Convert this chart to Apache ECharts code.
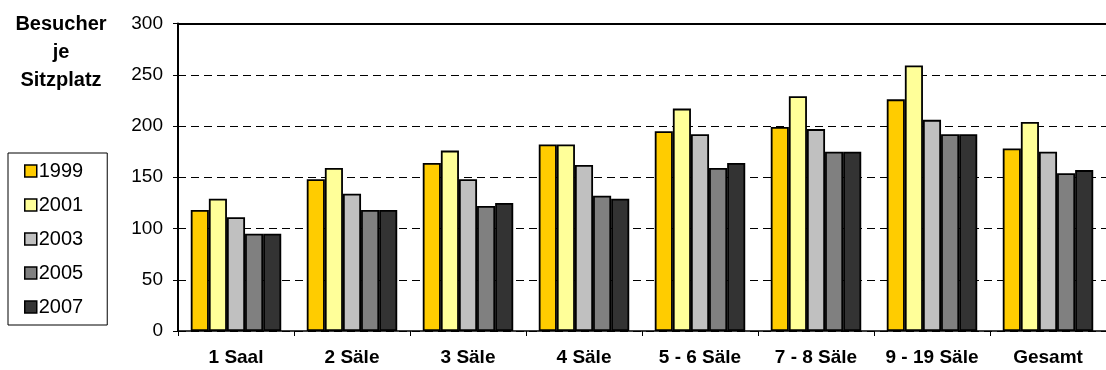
<!DOCTYPE html>
<html>
<head>
<meta charset="utf-8">
<script src="https://cdn.jsdelivr.net/npm/echarts@6/dist/echarts.min.js"></script>
<style>
  html, body { margin: 0; padding: 0; background: #fff; }
  #chart { width: 1106px; height: 370px; }
</style>
</head>
<body>
<div id="chart"></div>
<script>
// Visitors per seat, by cinema size class
const categories = ['1 Saal', '2 Säle', '3 Säle', '4 Säle', '5 - 6 Säle', '7 - 8 Säle', '9 - 19 Säle', 'Gesamt'];
const years = ['1999', '2001', '2003', '2005', '2007'];
const values1999 = [118, 148, 164, 182, 195, 199, 226, 178];
const values2001 = [129, 159, 176, 182, 217, 229, 259, 204];
const values2003 = [111, 134, 148, 162, 192, 197, 206, 175];
const values2005 = [95, 118, 122, 132, 159, 175, 192, 154];
const values2007 = [95, 118, 125, 129, 164, 175, 192, 157];
const yTicks = [0, 50, 100, 150, 200, 250, 300];

const seriesValues = [values1999, values2001, values2003, values2005, values2007];
const colors = ['#FFCC00', '#FFFF99', '#C0C0C0', '#808080', '#333333'];
const FONT = '"Liberation Sans", Arial, sans-serif';

const chart = echarts.init(document.getElementById('chart'), null, { renderer: 'canvas' });

chart.setOption({
  animation: false,
  backgroundColor: '#ffffff',
  textStyle: { fontFamily: FONT, color: '#000' },
  title: {
    text: 'Besucher\nje\nSitzplatz',
    left: 61,
    top: 10,
    padding: 0,
    textAlign: 'center',
    textStyle: {
      fontFamily: FONT,
      fontSize: 20,
      fontWeight: 'bold',
      lineHeight: 28,
      color: '#000'
    }
  },
  legend: {
    orient: 'vertical',
    left: 8,
    top: 153,
    data: years,
    padding: [8, 24, 8, 16],
    itemGap: 14,
    itemWidth: 12,
    itemHeight: 12,
    borderColor: '#000',
    borderWidth: 1,
    icon: 'rect',
    itemStyle: { borderColor: '#000', borderWidth: 1.5 },
    textStyle: { fontFamily: FONT, fontSize: 20, color: '#000', lineHeight: 20, padding: [0, 0, 0, -3] }
  },
  grid: {
    left: 178,
    top: 23.5,
    bottom: 39,
    width: 942,
    containLabel: false
  },
  xAxis: [
    {
      type: 'category',
      data: categories,
      position: 'bottom',
      axisLine: { show: true, lineStyle: { color: '#000', width: 1.5 } },
      axisTick: { show: true, interval: 0, length: 5, lineStyle: { color: '#000', width: 1 } },
      axisLabel: {
        interval: 0,
        hideOverlap: false,
        margin: 17,
        fontFamily: FONT,
        fontSize: 19,
        fontWeight: 'bold',
        color: '#000'
      }
    },
    {
      type: 'category',
      data: categories,
      position: 'top',
      axisLine: { show: true, lineStyle: { color: '#000', width: 2 } },
      axisTick: { show: false },
      axisLabel: { show: false }
    }
  ],
  yAxis: {
    type: 'value',
    min: yTicks[0],
    max: yTicks[yTicks.length - 1],
    interval: 50,
    axisLine: { show: true, lineStyle: { color: '#000', width: 2 } },
    axisTick: { show: true, length: 5, lineStyle: { color: '#000', width: 1 } },
    axisLabel: {
      margin: 15,
      fontFamily: FONT,
      fontSize: 19,
      color: '#000'
    },
    splitLine: {
      show: true,
      lineStyle: { color: '#000', width: 1, type: [8, 5] }
    }
  },
  series: years.map((y, i) => ({
    name: y,
    type: 'bar',
    data: seriesValues[i],
    barGap: '0%',
    barCategoryGap: '22%',
    itemStyle: {
      color: colors[i],
      borderColor: '#000',
      borderWidth: 1.8
    }
  }))
});
</script>
</body>
</html>
